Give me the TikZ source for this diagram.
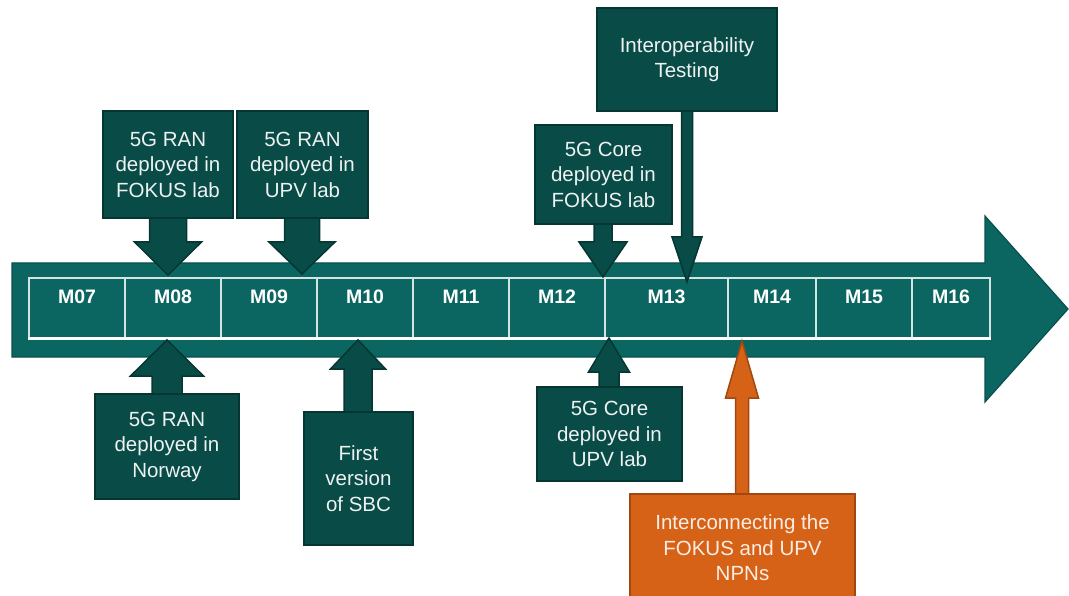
\documentclass[tikz,border=0pt]{standalone}
\usepackage{fontspec}
\setmainfont{Liberation Sans}
\usetikzlibrary{calc}

\definecolor{band}{HTML}{0B6662}
\definecolor{bandline}{HTML}{08504D}
\definecolor{callfill}{HTML}{094B47}
\definecolor{callline}{HTML}{053632}
\definecolor{orfill}{HTML}{D66218}
\definecolor{orline}{HTML}{A04810}
\definecolor{gridline}{HTML}{D5E4E2}
\definecolor{calltext}{HTML}{EEF2F1}
\definecolor{ortext}{HTML}{FBEDE3}

\pgfdeclarelayer{timeline}
\pgfdeclarelayer{arrows}
\pgfsetlayers{timeline,arrows,main}

% block arrow from the centre of a box to a tip point
% #1 style, #2 box, #3 tip, #4 shaft half width, #5 head half width,
% #6 head length (positive: box above the tip, negative: box below)
\newcommand\tlarrow[6]{%
  \path[#1] let \p1=(#3), \p2=(#2.center) in
    ({\x1-#4},{\y2}) -- ({\x1-#4},{\y1+(#6)}) -- ({\x1-#5},{\y1+(#6)}) -- (\p1)
    -- ({\x1+#5},{\y1+(#6)}) -- ({\x1+#4},{\y1+(#6)}) -- ({\x1+#4},{\y2}) -- cycle;}

\tikzset{
  bandshape/.style={fill=band, draw=bandline, line width=1.2pt, line join=miter},
  cell/.style={draw=gridline, line width=1.2pt, fill=band, inner sep=0pt},
  celltext/.style={text=white, font=\fontsize{19.5}{22}\selectfont\bfseries, inner sep=0pt},
  callbox/.style={fill=callfill, draw=callline, line width=1.5pt, inner sep=0pt,
    text=calltext, align=center, font=\fontsize{20.5}{25.5}\selectfont},
  orbox/.style={callbox, fill=orfill, draw=orline, text=ortext},
  callarrow/.style={fill=callfill, draw=callline, line width=1.5pt, line join=miter},
  orarrow/.style={fill=orfill, draw=orline, line width=1.5pt, line join=miter},
}

\begin{document}
\begin{tikzpicture}[x=1pt,y=-1pt]
\useasboundingbox (0,0) rectangle (1069,596);

\begin{pgfonlayer}{timeline}
% timeline band with arrow head
\path[bandshape] (12,263) -- (985,263) -- (985,216) -- (1068,309) -- (985,402)
  -- (985,357) -- (12,357) -- cycle;

% month cells
\foreach \l/\r/\t in {29/125/M07,125/221/M08,221/317/M09,317/413/M10,413/509/M11,
    509/605/M12,605/728/M13,728/816/M14,816/912/M15,912/990/M16}{
  \node[cell, minimum width={\r-\l}, minimum height=60] (\t) at ({(\l+\r)/2},308) {};
  \node[celltext] (\t-lab) at ({(\l+\r)/2},297) {\t};
}
\draw[white, line width=3pt] (M07.south west) -- (M16.south east);
\end{pgfonlayer}

% arrow tips on the timeline
\coordinate (tA) at (168,275);
\coordinate (tB) at (302,274);
\coordinate (tC) at (603,277);
\coordinate (tD) at (687,282);
\coordinate (tE) at (167,340);
\coordinate (tF) at (358,340);
\coordinate (tG) at (609,338);
\coordinate (tH) at (742,341);

% milestone boxes
\path
  (168,164.5) node[callbox, minimum width=130, minimum height=107] (ranfokus) {5G RAN\\deployed in\\FOKUS lab}
  (302.5,164.5) node[callbox, minimum width=131, minimum height=107] (ranupv) {5G RAN\\deployed in\\UPV lab}
  (603.5,174.5) node[callbox, minimum width=137, minimum height=99] (corefokus) {5G Core\\deployed in\\FOKUS lab}
  (687,59.5) node[callbox, minimum width=180, minimum height=103] (interop) {Interoperability\\Testing}
  (167,446.5) node[callbox, minimum width=144, minimum height=105] (rannorway) {5G RAN\\deployed in\\Norway}
  (358.5,478.5) node[callbox, minimum width=109, minimum height=133] (sbc) {First\\version\\of SBC}
  (609.5,434) node[callbox, minimum width=145, minimum height=94] (coreupv) {5G Core\\deployed in\\UPV lab}
  (742.5,548) node[orbox, minimum width=225, minimum height=108] (npn) {Interconnecting the\\FOKUS and UPV\\NPNs};

% block arrows, between the timeline and the boxes
\begin{pgfonlayer}{arrows}
\tlarrow{callarrow}{ranfokus}{tA}{18.5}{33.5}{33}
\tlarrow{callarrow}{ranupv}{tB}{17.5}{33}{32}
\tlarrow{callarrow}{corefokus}{tC}{9}{24}{35}
\tlarrow{callarrow}{interop}{tD}{5.5}{15}{45}
\tlarrow{callarrow}{rannorway}{tE}{15}{36.5}{-36}
\tlarrow{callarrow}{sbc}{tF}{14}{27.5}{-29}
\tlarrow{callarrow}{coreupv}{tG}{10}{20.5}{-34}
\tlarrow{orarrow}{npn}{tH}{6.5}{16.5}{-57}
\end{pgfonlayer}
\end{tikzpicture}
\end{document}
